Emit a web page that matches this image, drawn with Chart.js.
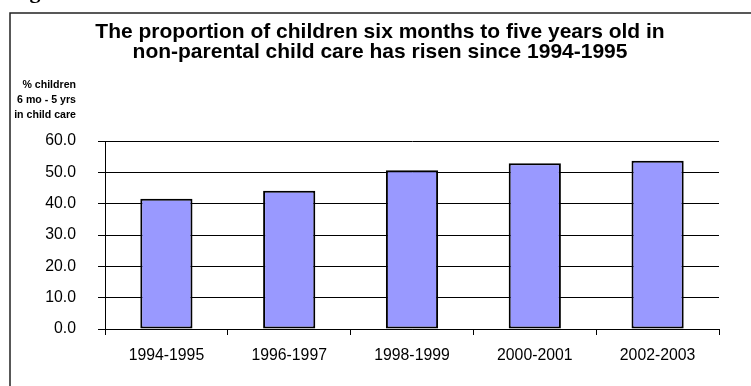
<!DOCTYPE html>
<html>
<head>
<meta charset="utf-8">
<script src="https://cdn.jsdelivr.net/npm/chart.js@4/dist/chart.umd.min.js"></script>
<style>
  html, body { margin: 0; padding: 0; background: #fff; }
  canvas { display: block; }
</style>
</head>
<body>
<canvas id="myChart" width="751" height="386"></canvas>
<script>
const periods = ["1994-1995", "1996-1997", "1998-1999", "2000-2001", "2002-2003"];
const careShare = [41.6, 44.1, 50.7, 52.9, 53.7];
const titleLines = [
  "The proportion of children six months to five years old in",
  "non-parental child care has risen since 1994-1995"
];
const axisTitleLines = ["% children", "6 mo - 5 yrs", "in child care"];

// frame, heading and the stacked axis caption
const decorations = {
  id: "decorations",
  beforeDraw(chart) {
    const ctx = chart.ctx;
    ctx.save();
    ctx.fillStyle = "#fff";
    ctx.fillRect(0, 0, chart.width, chart.height);

    ctx.fillStyle = "#000";
    ctx.font = "bold 22px 'Liberation Serif'";
    ctx.textAlign = "left";
    ctx.textBaseline = "alphabetic";
    ctx.fillText("Figure", 10, -2);

    ctx.strokeStyle = "#222";
    ctx.lineWidth = 1.5;
    ctx.beginPath();
    ctx.moveTo(10, chart.height);
    ctx.lineTo(10, 13);
    ctx.lineTo(chart.width, 13);
    ctx.stroke();
    ctx.restore();
  },
  afterDraw(chart) {
    const ctx = chart.ctx;
    ctx.save();
    ctx.fillStyle = "#000";
    ctx.textBaseline = "alphabetic";
    ctx.textAlign = "center";
    ctx.font = "bold 21px 'Liberation Sans'";
    titleLines.forEach((t, i) => ctx.fillText(t, 380, 37.5 + i * 20));

    ctx.textAlign = "right";
    ctx.font = "bold 10.6px 'Liberation Sans'";
    axisTitleLines.forEach((t, i) => ctx.fillText(t, 76, 88 + i * 15));
    ctx.restore();
  }
};

const config = {
  type: "bar",
  data: {
    labels: periods,
    datasets: [
      {
        label: "% children in child care",
        data: careShare,
        backgroundColor: "#9999FF",
        borderColor: "#000",
        borderWidth: 2,
        borderSkipped: false,
        categoryPercentage: 1,
        barPercentage: 0.425,
      },
    ],
  },
  options: {
    responsive: false,
    animation: false,
    layout: { padding: { top: 141, right: 32, left: 0, bottom: 0 } },
    plugins: {
      legend: { display: false },
      title: { display: false },
      tooltip: { enabled: false },
    },
    scales: {
      x: {
        grid: {
          drawOnChartArea: false,
          drawTicks: true,
          tickLength: 6,
          color: "#000",
        },
        border: { color: "#000", width: 1 },
        ticks: {
          color: "#000",
          padding: 11,
          maxRotation: 0,
          font: { family: "'Liberation Sans'", size: 15.8 },
        },
        afterFit(scale) { scale.height = 57; },
      },
      y: {
        min: 0,
        max: 60,
        ticks: {
          stepSize: 10,
          color: "#000",
          padding: 22,
          font: { family: "'Liberation Sans'", size: 15.8 },
          callback: (v) => Number(v).toFixed(1),
        },
        grid: { color: "#000", tickLength: 7, lineWidth: 1 },
        border: { color: "#000", width: 1 },
        afterFit(scale) { scale.width = 105; },
      },
    },
  },
  plugins: [decorations],
};

new Chart(document.getElementById("myChart").getContext("2d"), config);
</script>
</body>
</html>
